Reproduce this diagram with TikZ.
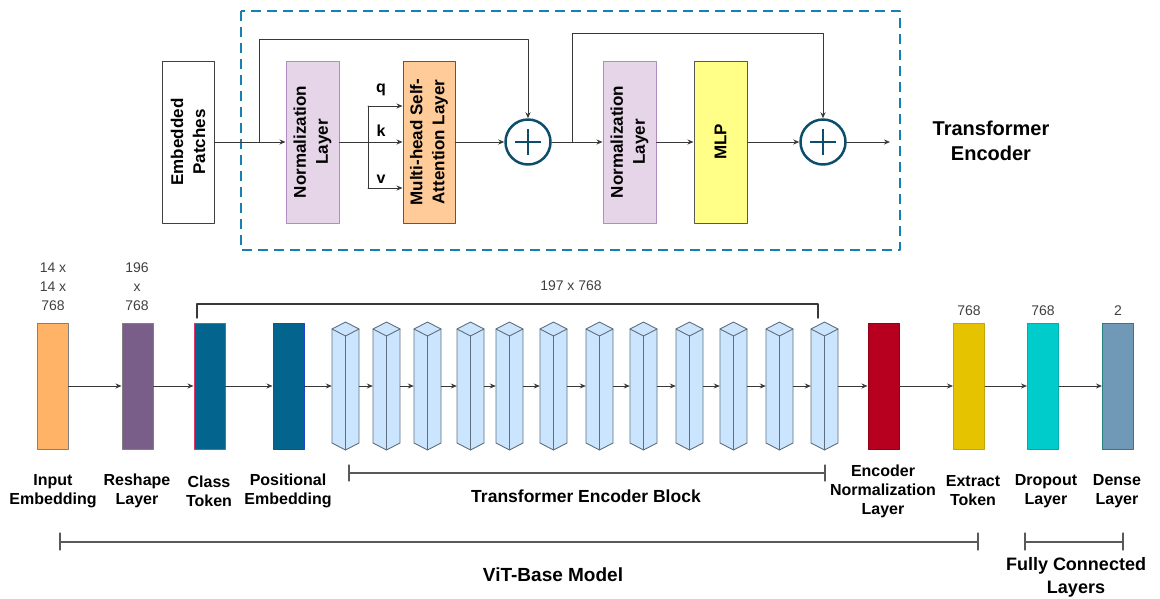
\documentclass[tikz,border=0pt]{standalone}
\usepackage{fontspec}
\setmainfont{Liberation Sans}
\usetikzlibrary{arrows.meta}

\definecolor{linegray}{HTML}{383838}
\definecolor{frameblue}{HTML}{1A7FAE}
\definecolor{addblue}{HTML}{0C4D6C}
\definecolor{normfill}{HTML}{E6D4E8}
\definecolor{normline}{HTML}{B48CC0}
\definecolor{attnfill}{HTML}{FFCC99}
\definecolor{mlpfill}{HTML}{FFFF88}
\definecolor{inpfill}{HTML}{FFB366}
\definecolor{reshfill}{HTML}{7A5E8A}
\definecolor{tokfill}{HTML}{03658E}
\definecolor{tokline}{HTML}{E0356B}
\definecolor{posline}{HTML}{2040D0}
\definecolor{encfill}{HTML}{B70020}
\definecolor{extfill}{HTML}{E6C300}
\definecolor{dropfill}{HTML}{00CCCC}
\definecolor{densefill}{HTML}{7099B8}
\definecolor{cubefill}{HTML}{CCE5FF}
\definecolor{cubeline}{HTML}{5E6E7C}
\definecolor{numgray}{HTML}{404040}

\begin{document}
\begin{tikzpicture}[x=1pt,y=-1pt,line cap=round,line join=round,
  flow/.style={draw=linegray,line width=0.8pt,-{Stealth[length=6pt,width=5pt]}},
  wire/.style={draw=linegray,line width=0.8pt},
  tall/.style={draw=gray!70!black,line width=1pt,inner sep=0pt,minimum width=52pt,minimum height=162pt},
  vtext/.style={rotate=90,align=center,font=\fontsize{17}{22}\selectfont\bfseries},
  addop/.style={circle,draw=addblue,line width=2.5pt,minimum size=45pt,inner sep=0pt},
  layer/.style={draw,line width=1pt,inner sep=0pt,minimum width=31pt,minimum height=126pt},
  cubeanchor/.style={inner sep=0pt,minimum width=27pt,minimum height=128pt},
  cube/.style={draw=cubeline,line width=0.9pt,fill=cubefill},
  dims/.style={align=center,text=numgray,font=\fontsize{14}{19}\selectfont},
  caption/.style={align=center,font=\fontsize{16}{19}\selectfont\bfseries},
  bigcaption/.style={align=center,font=\fontsize{19}{24}\selectfont\bfseries},
  bracket/.style={draw=gray!70!black,line width=1.1pt}]
  \useasboundingbox (0,0) rectangle (1160,598);

  % Encoder frame
  \draw[frameblue,line width=2.5pt,dash pattern=on 10pt off 6pt,line cap=butt] (241,11) rectangle (900,250);
  \node[bigcaption,font=\fontsize{20}{25}\selectfont\bfseries] (title) at (991,141) {Transformer\\Encoder};

  % Encoder layers
  \node[tall,fill=white,draw=black!75] (ep) at (188,142) {};
  \node[vtext] at (ep) {Embedded\\Patches};
  \node[tall,fill=normfill,draw=normline,minimum width=53pt] (n1) at (312.5,142) {};
  \node[vtext] at (n1) {Normalization\\Layer};
  \node[tall,fill=attnfill] (mhsa) at (429,142) {};
  \node[vtext] at (mhsa) {Multi-head Self-\\Attention Layer};
  \node[addop] (a1) at (528,142) {};
  \node[tall,fill=normfill,draw=normline,minimum width=53pt] (n2) at (629.5,142) {};
  \node[vtext] at (n2) {Normalization\\Layer};
  \node[tall,fill=mlpfill,minimum width=53pt] (mlp) at (720.5,142) {};
  \node[vtext] at (mlp) {MLP};
  \node[addop] (a2) at (823,142) {};
  \foreach \a in {a1,a2}
    \draw[addblue,line width=2.8pt,line cap=butt] (\a.center) ++(-13,0) -- ++(26,0) (\a.center) ++(0,-13) -- ++(0,26);

  \coordinate (s1) at (259,142);
  \coordinate (s2) at (572,142);
  \coordinate (qs) at (368,106);
  \coordinate (vs) at (368,188);
  \coordinate (out) at (890,142);

  \draw[flow] (ep) -- (n1);
  \draw[flow] (n1) -- (mhsa);
  \draw[wire] (qs) -- (vs);
  \draw[flow] (qs) -- (qs -| mhsa.west);
  \draw[flow] (vs) -- (vs -| mhsa.west);
  \draw[flow] (mhsa) -- (a1);
  \draw[flow] (a1) -- (n2);
  \draw[flow] (n2) -- (mlp);
  \draw[flow] (mlp) -- (a2);
  \draw[flow] (a2) -- (out);
  \draw[flow] (s1) -- ++(0,-103) -| (a1);
  \draw[flow] (s2) -- ++(0,-109) -| (a2);
  \node[font=\fontsize{16}{19}\selectfont\bfseries] (q) at (381,90) {q};
  \node[font=\fontsize{16}{19}\selectfont\bfseries] (k) at (381,131) {k};
  \node[font=\fontsize{16}{19}\selectfont\bfseries] (v) at (381,179) {v};

  % ViT pipeline
  \node[layer,fill=inpfill,draw=gray] (inp) at (52.5,386) {};
  \node[layer,fill=reshfill,draw=gray] (resh) at (137.5,386) {};
  \node[layer,fill=tokfill,draw=tokline] (cls) at (209.5,386) {};
  \node[layer,fill=tokfill,draw=posline] (pos) at (288.5,386) {};
  \foreach \x [count=\i] in {332,373,414,457,496,540,586,630,676,720,766,811} {
    \draw[cube] (\x,329) -- (\x+13.5,322) -- (\x+27,329) -- (\x+27,443) -- (\x+13.5,450) -- (\x,443) -- cycle;
    \draw[cube,fill=none] (\x,329) -- (\x+13.5,336) -- (\x+27,329) (\x+13.5,336) -- (\x+13.5,450);
    \node[cubeanchor] (t\i) at (\x+13.5,386) {};
  }
  \node[layer,fill=encfill,draw=encfill!80!black] (enc) at (883.5,386) {};
  \node[layer,fill=extfill,draw=extfill!85!black] (ext) at (969,386) {};
  \node[layer,fill=dropfill,draw=dropfill!85!black] (drop) at (1043,386) {};
  \node[layer,fill=densefill,draw=teal!70!gray] (dense) at (1118,386) {};

  \draw[flow] (inp) -- (resh);
  \draw[flow] (resh) -- (cls);
  \draw[flow] (cls) -- (pos);
  \draw[flow] (pos) -- (t1);
  \foreach \j [count=\i] in {2,...,12}
    \draw[flow] (t\i) -- (t\j);
  \draw[flow] (t12) -- (enc);
  \draw[flow] (enc) -- (ext);
  \draw[flow] (ext) -- (drop);
  \draw[flow] (drop) -- (dense);

  % Sizes
  \node[dims] (d1) at (53,287) {14 x\\14 x\\768};
  \node[dims] (d2) at (137,287) {196\\x\\768};
  \node[dims] (d3) at (571,286) {197 x 768};
  \node[dims] (d4) at (969,311) {768};
  \node[dims] (d5) at (1043,311) {768};
  \node[dims] (d6) at (1118,311) {2};
  \draw[line width=1.4pt,draw=linegray] (197,318) -- (197,304) -- (818,304) -- (818,318);

  % Captions
  \node[caption] (l1) at (53,491) {Input\\Embedding};
  \node[caption] (l2) at (137,491) {Reshape\\Layer};
  \node[caption] (l3) at (209,491) {Class\\Token};
  \node[caption] (l4) at (288,491) {Positional\\Embedding};
  \node[caption,font=\fontsize{17.5}{21}\selectfont\bfseries] (l5) at (586,496) {Transformer Encoder Block};
  \node[caption] (l6) at (883,491) {Encoder\\Normalization\\Layer};
  \node[caption] (l7) at (973,491) {Extract\\Token};
  \node[caption] (l8) at (1046,491) {Dropout\\Layer};
  \node[caption] (l9) at (1117,491) {Dense\\Layer};

  % Brackets
  \draw[bracket] (349,465) -- (349,481) (349,473) -- (825,473) (825,465) -- (825,481);
  \draw[bracket] (60,533) -- (60,550) (60,542) -- (978,542) (978,533) -- (978,550);
  \draw[bracket] (1025,533) -- (1025,550) (1025,542) -- (1123,542) (1123,533) -- (1123,550);
  \node[bigcaption] (vit) at (553,575) {ViT-Base Model};
  \node[bigcaption,font=\fontsize{18}{23}\selectfont\bfseries] (fc) at (1076,577) {Fully Connected\\Layers};
\end{tikzpicture}
\end{document}
